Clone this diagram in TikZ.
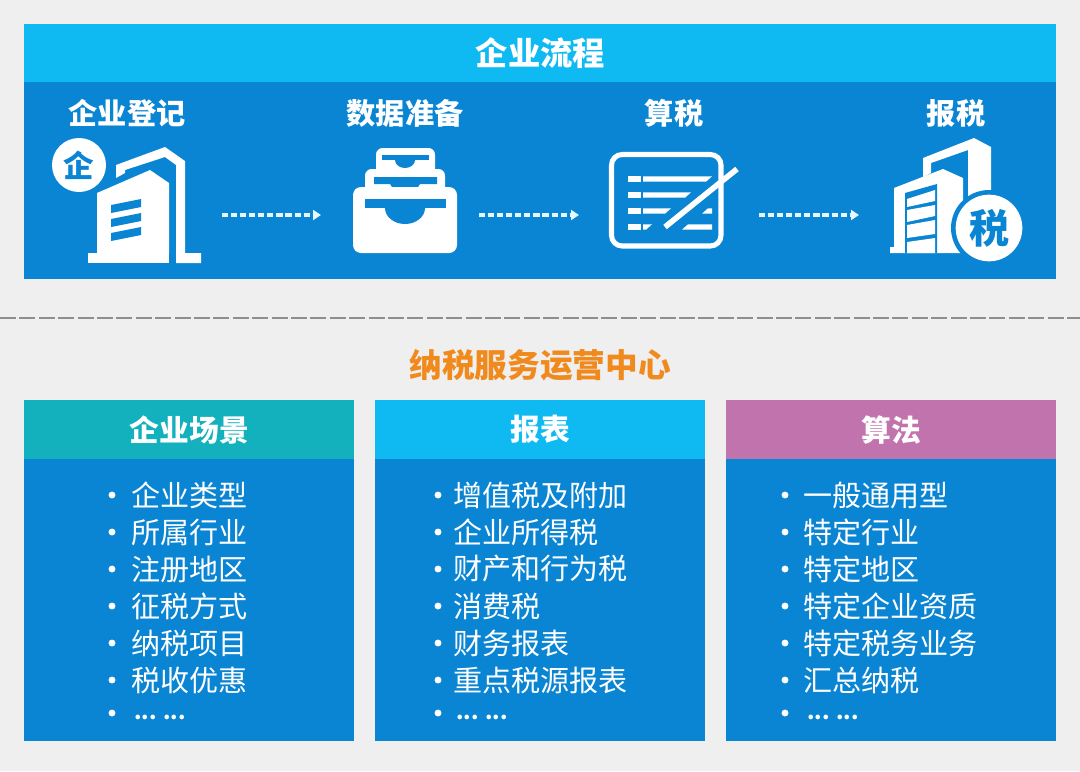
\documentclass[tikz,border=0pt]{standalone}
\usepackage{fontspec}
\setmainfont{Noto Sans CJK SC}
\usetikzlibrary{arrows.meta}
\definecolor{pagebg}{HTML}{EFEFEF}
\definecolor{panelblue}{HTML}{0A85D3}
\definecolor{headblue}{HTML}{0FB9F2}
\definecolor{headteal}{HTML}{13B0BE}
\definecolor{headpurple}{HTML}{C173AD}
\definecolor{titleorange}{HTML}{F08A1D}
\definecolor{dashgray}{HTML}{8E8E8E}
\definecolor{flowwhite}{HTML}{E4F7FD}
\tikzset{
  x=0.75pt,y=-0.75pt,
  panel/.style={fill=panelblue,draw=none},
  headbar/.style={draw=none,minimum height=44.25pt,text=white,font=\fontsize{22.3}{22.3}\selectfont\bfseries,inner sep=0pt},
  steptitle/.style={text=white,font=\fontsize{21.9}{21.9}\selectfont\bfseries,inner sep=0pt},
  listrow/.style={text=white,anchor=west,font=\fontsize{21.8}{21.8}\selectfont,inner sep=0pt},
  moredots/.style={text=white,anchor=west,font=\fontsize{16}{16}\selectfont\bfseries,inner sep=0pt},
  bulletdot/.style={fill=white,circle,inner sep=0pt,minimum size=5.2pt},
  flowarrow/.style={draw=flowwhite,line width=2.8pt,dash pattern=on 4.6pt off 2.2pt,-{Triangle[length=6pt,width=7.5pt,fill=flowwhite]}},
  icon/.style={fill=white,draw=none},
  iconcut/.style={fill=panelblue,draw=none},
}
\newcommand{\panelcol}[4]{%
  \fill[panel] (#1,400) rectangle (#1+330,741);
  \node[headbar,fill=#2,minimum width=247.5pt,anchor=north west] (#3) at (#1,400) {#4};
}
\begin{document}
\begin{tikzpicture}
\useasboundingbox (0,0) rectangle (1080,771);
\fill[pagebg] (0,0) rectangle (1080,771);
% top panel
\fill[panel] (24,24) rectangle (1056,279);
\node[headbar,fill=headblue,minimum width=774pt,minimum height=43.5pt,anchor=north west,font=\fontsize{24.2}{24.2}\selectfont\bfseries] (toph) at (24,24) {企业流程};
\node[steptitle] (s1) at (127,113) {企业登记};
\node[steptitle] (s2) at (405,113) {数据准备};
\node[steptitle] (s3) at (674,113) {算税};
\node[steptitle] (s4) at (956,113) {报税};
% icon 1
\fill[icon] (88,253) rectangle (169,263);
\fill[icon] (97,193) -- (150,170) -- (169,183) -- (169,253) -- (97,253) -- cycle;
\fill[icon] (116,165) -- (165,147) -- (185,161) -- (185,253) -- (201,253) -- (201,263) -- (176,263) -- (176,165) -- (165,157) -- (125,170) -- (125,173) -- (116,178) -- cycle;
\fill[iconcut] (111,205) -- (141,199) -- (141,207) -- (111,213) -- cycle;
\fill[iconcut] (111,219) -- (141,213) -- (141,221) -- (111,227) -- cycle;
\fill[iconcut] (111,233) -- (141,227) -- (141,235) -- (111,241) -- cycle;
\fill[panelblue] (79,165) circle (31);
\node[icon,circle,minimum size=40.5pt,inner sep=0pt,text=panelblue,font=\fontsize{23}{23}\selectfont\bfseries] (qi) at (79,165) {企};
% icon 2
\fill[icon,rounded corners=5pt] (376,148) rectangle (435,175);
\fill[iconcut] (382,155) rectangle (429,160);
\fill[iconcut] (395,160) arc[start angle=180,end angle=0,x radius=10,y radius=8] -- cycle;
\fill[icon,rounded corners=5pt] (365,169) rectangle (445,195);
\fill[iconcut] (374,177) -- (437,177) -- (437,184) -- (420,184) -- (418,187) -- (392,187) -- (390,184) -- (374,184) -- cycle;
\fill[icon,rounded corners=6pt] (353,187) rectangle (457,253);
\fill[iconcut] (365,199) rectangle (446,208);
\fill[iconcut] (385,208) arc[start angle=180,end angle=0,x radius=20,y radius=16] -- cycle;
% icon 3
\draw[white,line width=3.8pt,rounded corners=8pt] (611.5,154.5) rectangle (721,246);
\foreach \y in {179,195,211,227}{\fill[icon] (628,\y-2.7) rectangle (641,\y+2.7);}
\fill[icon] (643,176.3) -- (712,176.3) -- (706,181.7) -- (643,181.7) -- cycle;
\fill[icon] (643,192.3) -- (691,192.3) -- (685,197.7) -- (643,197.7) -- cycle;
\fill[icon] (643,208.3) -- (671,208.3) -- (665,213.7) -- (643,213.7) -- cycle;
\fill[icon] (643,224.3) -- (652,224.3) -- (646,229.7) -- (643,229.7) -- cycle;
\fill[icon] (708,208.3) -- (712,208.3) -- (712,213.7) -- (702,213.7) -- cycle;
\fill[icon] (688,224.3) -- (712,224.3) -- (712,229.7) -- (682,229.7) -- cycle;
\draw[panelblue,line width=8pt] (665,227) -- (714,187);
\draw[white,line width=4.2pt] (665,227) -- (737,169);
% icon 4
\fill[icon] (923,158) -- (974,138) -- (991,147) -- (991,210) -- (968,210) -- (968,150) -- (931,163) -- (931,173) -- (923,177) -- cycle;
\fill[icon] (894,188) -- (943,169) -- (963,178) -- (963,253) -- (890,253) -- (890,247) -- (894,247) -- cycle;
\fill[iconcut] (905,193) -- (937,184) -- (937,253) -- (905,253) -- cycle;
\fill[icon] (907,199) -- (935,190) -- (935,201) -- (907,207) -- cycle;
\fill[icon] (907,210) -- (935,205) -- (935,216) -- (907,222) -- cycle;
\fill[icon] (907,225) -- (935,220) -- (935,234) -- (907,238) -- cycle;
\fill[icon] (907,242) -- (935,238) -- (935,253) -- (907,253) -- cycle;
\fill[panelblue] (989,228) circle (38);
\node[icon,circle,minimum size=50pt,inner sep=0pt,text=panelblue,font=\fontsize{30}{30}\selectfont\bfseries] (shui) at (989,228) {税};
% flow arrows
\coordinate (a1s) at (222,215); \coordinate (a1e) at (321,215);
\coordinate (a2s) at (479,215); \coordinate (a2e) at (579,215);
\coordinate (a3s) at (759,215); \coordinate (a3e) at (859,215);
\draw[flowarrow] (a1s) -- (a1e);
\draw[flowarrow] (a2s) -- (a2e);
\draw[flowarrow] (a3s) -- (a3e);
% separator
\coordinate (sepl) at (0,318); \coordinate (sepr) at (1080,318);
\draw[dashgray,line width=2.2pt,dash pattern=on 12pt off 2.55pt] (sepl) -- (sepr);
\node[text=titleorange,inner sep=0pt,font=\fontsize{24.5}{24.5}\selectfont\bfseries] (center) at (540,365) {纳税服务运营中心};
% columns
\panelcol{24}{headteal}{h1}{企业场景}
\panelcol{375}{headblue}{h2}{报表}
\panelcol{726}{headpurple}{h3}{算法}
\foreach \i/\t/\y in {a/企业类型/495,b/所属行业/532,c/注册地区/569,d/征税方式/606,e/纳税项目/643,f/税收优惠/680}{
  \node[bulletdot] (l1d\i) at (112,\y) {};
  \node[listrow] (l1\i) at (131,\y) {\t};
}
\foreach \i/\t/\y in {a/增值税及附加/495,b/企业所得税/532,c/财产和行为税/569,d/消费税/606,e/财务报表/643,f/重点税源报表/680}{
  \node[bulletdot] (l2d\i) at (438,\y) {};
  \node[listrow] (l2\i) at (453,\y) {\t};
}
\foreach \i/\t/\y in {a/一般通用型/495,b/特定行业/532,c/特定地区/569,d/特定企业资质/606,e/特定税务业务/643,f/汇总纳税/680}{
  \node[bulletdot] (l3d\i) at (785,\y) {};
  \node[listrow] (l3\i) at (803,\y) {\t};
}
\node[bulletdot] (l1dg) at (112,713) {};
\node[moredots] (l1g) at (134,717) {... ...};
\node[bulletdot] (l2dg) at (438,713) {};
\node[moredots] (l2g) at (456,717) {... ...};
\node[bulletdot] (l3dg) at (785,713) {};
\node[moredots] (l3g) at (807,717) {... ...};
\end{tikzpicture}
\end{document}
